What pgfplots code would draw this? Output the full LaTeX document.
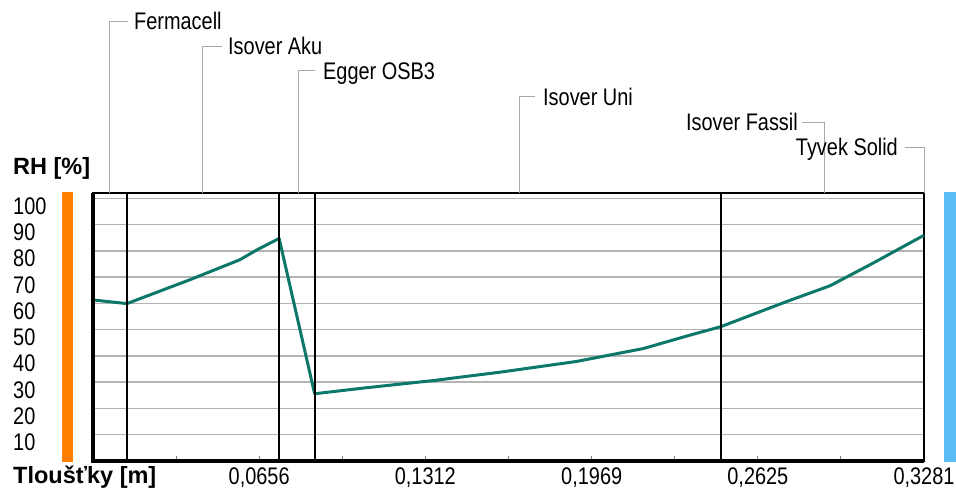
\documentclass[border=0pt]{standalone}
\usepackage{fontspec}
\setmainfont{Liberation Sans}
\newfontfamily\lblfont{Liberation Sans}[FakeStretch=0.83]
\usepackage{pgfplots}
\pgfplotsset{compat=1.18}

\definecolor{curve}{RGB}{12,120,106}
\definecolor{gridc}{RGB}{180,180,180}
\definecolor{leadc}{RGB}{168,168,168}
\definecolor{orangebar}{RGB}{255,128,0}
\definecolor{bluebar}{RGB}{90,190,245}

\newcommand{\lf}{\lblfont\fontsize{24bp}{26bp}\selectfont}
\newcommand{\bfl}{\bfseries\fontsize{23.5bp}{25bp}\selectfont}

\pgfplotstableread{
x RH
0      61.3
0.0134 59.9
0.0383 69.0
0.0580 76.6
0.0650 80.5
0.0735 84.7
0.0875 25.6
0.1081 27.9
0.1342 30.6
0.1607 33.8
0.1910 37.9
0.2173 42.8
0.2357 47.9
0.2478 51.1
0.2739 60.7
0.2910 66.7
0.3068 74.7
0.3275 85.6
0.3281 85.8
}\rhdata

\begin{document}
\begin{tikzpicture}
\useasboundingbox (0,0) rectangle (956bp,490bp);
\fill[orangebar] (62bp,28bp) rectangle (73bp,298bp);
\fill[bluebar] (944bp,28bp) rectangle (956bp,298bp);
\begin{axis}[
  at={(93bp,29bp)}, anchor=south west,
  scale only axis, width=831bp, height=268bp,
  xmin=0, xmax=0.3281, ymin=0, ymax=102,
  axis line style={line width=2.5bp, black},
  xtick={0.0656,0.1312,0.1969,0.2625,0.3281},
  xticklabels={{0,0656},{0,1312},{0,1969},{0,2625},{0,3281}},
  minor xtick={0.0328,0.0984,0.1640,0.2297,0.2953},
  xtick pos=left,
  tick align=inside,
  major tick length=5bp, minor tick length=5bp,
  every tick/.style={gray, line width=1bp},
  ytick={10,20,...,100},
  ymajorgrids, grid style={gridc, line width=1.5bp},
  ytick style={draw=none},
  yticklabel style={anchor=base west, xshift=-80bp, yshift=-16bp, inner sep=0pt, font=\lf},
  xticklabel style={anchor=base, yshift=-23.5bp, inner sep=0pt, font=\lf},
  /pgf/number format/assume math mode=true,
  clip=false,
]
\addplot[curve, line width=3bp, line join=round, mark=none] table[x=x, y=RH] {\rhdata};
\draw[black, line width=2bp] (axis cs:0.0134,0) -- (axis cs:0.0134,102);
\draw[black, line width=2bp] (axis cs:0.0735,0) -- (axis cs:0.0735,102);
\draw[black, line width=2bp] (axis cs:0.0875,0) -- (axis cs:0.0875,102);
\draw[black, line width=2bp] (axis cs:0.2478,0) -- (axis cs:0.2478,102);
\draw[black, line width=3.5bp] (rel axis cs:0,1) -- (rel axis cs:0,0) -- (rel axis cs:1,0);
\end{axis}
% labels
\node[anchor=base west, inner sep=0pt] at (13bp,315bp) {\bfl RH [\%]};
\node[anchor=base west, inner sep=0pt] at (13bp,6.5bp) {\bfl Tloušťky [m]};
% leaders
\draw[leadc, line width=1bp] (109bp,297bp) -- (109bp,468bp) -- (128bp,468bp);
\node[anchor=base west, inner sep=0pt] at (134bp,460bp) {\lf Fermacell};
\draw[leadc, line width=1bp] (202bp,297bp) -- (202bp,443bp) -- (222bp,443bp);
\node[anchor=base west, inner sep=0pt] at (228bp,435bp) {\lf Isover Aku};
\draw[leadc, line width=1bp] (298bp,297bp) -- (298bp,419bp) -- (315bp,419bp);
\node[anchor=base west, inner sep=0pt] at (323bp,410bp) {\lf Egger OSB3};
\draw[leadc, line width=1bp] (519bp,297bp) -- (519bp,393bp) -- (535bp,393bp);
\node[anchor=base west, inner sep=0pt] at (543bp,384bp) {\lf Isover Uni};
\draw[leadc, line width=1bp] (824bp,297bp) -- (824bp,367bp) -- (802bp,367bp);
\node[anchor=base east, inner sep=0pt] at (798bp,359bp) {\lf Isover Fassil};
\draw[leadc, line width=1bp] (924bp,297bp) -- (924bp,342bp) -- (905bp,342bp);
\node[anchor=base east, inner sep=0pt] at (898bp,334bp) {\lf Tyvek Solid};
\end{tikzpicture}
\end{document}
